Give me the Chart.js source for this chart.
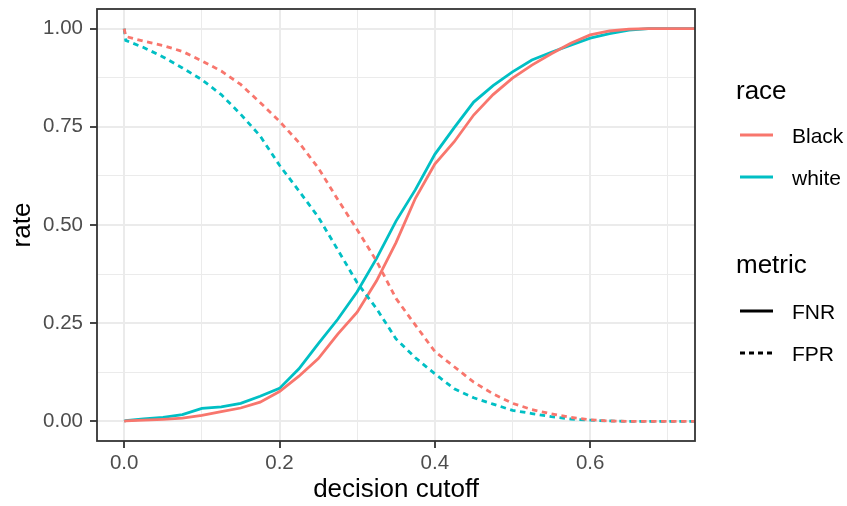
<!DOCTYPE html>
<html>
<head>
<meta charset="utf-8">
<script src="https://cdn.jsdelivr.net/npm/chart.js@4/dist/chart.umd.min.js"></script>
<style>
  html, body { margin: 0; padding: 0; background: #ffffff; }
  #wrap { width: 847px; height: 506px; }
</style>
</head>
<body>
<div id="wrap"><canvas id="chart" width="847" height="506"></canvas></div>
<script>
// decision cutoff values (x)
const cutoffs = [0, 0.002, 0.025, 0.05, 0.075, 0.1, 0.125, 0.15, 0.175, 0.2,
  0.225, 0.25, 0.275, 0.3, 0.325, 0.35, 0.375, 0.4, 0.425, 0.45,
  0.475, 0.5, 0.525, 0.55, 0.575, 0.6, 0.625, 0.65, 0.675, 0.7, 0.75];

// false negative rate by race
const fnrBlack = [0, 0.001, 0.003, 0.005, 0.008, 0.015, 0.025, 0.034, 0.049, 0.076,
  0.115, 0.16, 0.222, 0.278, 0.358, 0.455, 0.568, 0.655, 0.712, 0.78,
  0.832, 0.874, 0.907, 0.936, 0.963, 0.984, 0.994, 0.999, 1, 1, 1];
const fnrWhite = [0, 0.002, 0.006, 0.010, 0.017, 0.033, 0.037, 0.046, 0.064, 0.084,
  0.134, 0.198, 0.26, 0.33, 0.415, 0.51, 0.59, 0.68, 0.748, 0.813,
  0.855, 0.89, 0.92, 0.94, 0.958, 0.976, 0.987, 0.996, 1, 1, 1];

// false positive rate by race
const fprBlack = [1, 0.98, 0.968, 0.957, 0.942, 0.918, 0.892, 0.858, 0.812, 0.764,
  0.71, 0.645, 0.565, 0.488, 0.408, 0.313, 0.245, 0.178, 0.139, 0.10,
  0.07, 0.046, 0.03, 0.019, 0.010, 0.004, 0.001, 0, 0, 0, 0];
const fprWhite = [1, 0.97, 0.952, 0.928, 0.90, 0.87, 0.832, 0.782, 0.727, 0.652,
  0.587, 0.52, 0.437, 0.353, 0.287, 0.21, 0.162, 0.121, 0.083, 0.06,
  0.044, 0.028, 0.02, 0.012, 0.006, 0.003, 0.001, 0, 0, 0, 0];

// axis ticks
const xMajor = [0, 0.2, 0.4, 0.6];
const xMinor = [0.1, 0.3, 0.5, 0.7];
const xLabels = ['0.0', '0.2', '0.4', '0.6'];
const yMajor = [0, 0.25, 0.5, 0.75, 1];
const yMinor = [0.125, 0.375, 0.625, 0.875];
const yLabels = ['0.00', '0.25', '0.50', '0.75', '1.00'];

const raceNames = ['Black', 'white'];
const metricNames = ['FNR', 'FPR'];

const FONT = '"Liberation Sans", Arial, Helvetica, sans-serif';
const C_BLACK = '#F8766D';
const C_WHITE = '#00BFC4';
const DASH = [5.5, 4.5];

const pts = (ys) => cutoffs.map((x, i) => ({ x: x, y: ys[i] }));

const allTicks = (major, minor) => [...major, ...minor].sort((a, b) => a - b).map(v => ({ value: v }));

// ggplot-like legend + panel border
const ggPlugin = {
    id: 'ggExtras',
    afterDraw(chart) {
        const c = chart.ctx;
        const a = chart.chartArea;
        c.save();
        // panel border
        c.strokeStyle = '#333333';
        c.lineWidth = 1.8;
        c.strokeRect(a.left, a.top, a.right - a.left, a.bottom - a.top);

        c.fillStyle = '#000000';
        c.textAlign = 'left';
        c.textBaseline = 'alphabetic';
        c.font = `26px ${FONT}`;
        c.fillText('race', 736, 99);
        c.fillText('metric', 736, 273);

        c.font = `21px ${FONT}`;
        c.lineWidth = 2.8;
        c.lineCap = 'butt';
        const raceCols = [C_BLACK, C_WHITE];
        const raceY = [135, 177];
        raceNames.forEach((name, i) => {
            c.strokeStyle = raceCols[i];
            c.setLineDash([]);
            c.beginPath();
            c.moveTo(740, raceY[i]);
            c.lineTo(773, raceY[i]);
            c.stroke();
            c.fillText(name, 792, raceY[i] + 8);
        });
        const metricY = [311, 353];
        metricNames.forEach((name, i) => {
            c.strokeStyle = '#000000';
            c.setLineDash(i === 0 ? [] : [5, 4]);
            c.beginPath();
            c.moveTo(740, metricY[i]);
            c.lineTo(773, metricY[i]);
            c.stroke();
            c.fillText(name, 792, metricY[i] + 8);
        });
        c.restore();
    }
};

const ctx = document.getElementById('chart').getContext('2d');
new Chart(ctx, {
    type: 'line',
    data: {
        datasets: [
            { label: 'Black FPR', data: pts(fprBlack), borderColor: C_BLACK, borderDash: DASH },
            { label: 'white FPR', data: pts(fprWhite), borderColor: C_WHITE, borderDash: DASH },
            { label: 'Black FNR', data: pts(fnrBlack), borderColor: C_BLACK },
            { label: 'white FNR', data: pts(fnrWhite), borderColor: C_WHITE }
        ]
    },
    options: {
        responsive: false,
        animation: false,
        devicePixelRatio: 1,
        layout: { padding: { top: 9, right: 152, bottom: 0, left: 0 } },
        elements: {
            line: { borderWidth: 2.8, tension: 0, fill: false, borderCapStyle: 'butt' },
            point: { radius: 0, hoverRadius: 0 }
        },
        scales: {
            x: {
                type: 'linear',
                min: -0.035,
                max: 0.735,
                afterBuildTicks: s => { s.ticks = allTicks(xMajor, xMinor); },
                afterFit: s => { s.height = 65; s.paddingLeft = 0; s.paddingRight = 0; },
                ticks: {
                    autoSkip: false,
                    maxRotation: 0,
                    padding: 3,
                    color: '#4D4D4D',
                    font: { family: FONT, size: 20.5 },
                    callback: v => { const i = xMajor.indexOf(v); return i >= 0 ? xLabels[i] : ''; }
                },
                grid: {
                    color: '#EBEBEB',
                    lineWidth: c => xMajor.includes(c.tick && c.tick.value) ? 2 : 1,
                    tickLength: 7,
                    tickWidth: 1.8,
                    tickColor: c => xMajor.includes(c.tick && c.tick.value) ? '#333333' : 'rgba(0,0,0,0)'
                },
                border: { display: false },
                title: {
                    display: true,
                    text: 'decision cutoff',
                    color: '#000000',
                    font: { family: FONT, size: 26 },
                    padding: { top: 0, bottom: 1 }
                }
            },
            y: {
                type: 'linear',
                min: -0.05,
                max: 1.05,
                afterBuildTicks: s => { s.ticks = allTicks(yMajor, yMinor); },
                afterFit: s => { s.width = 97; s.paddingTop = 0; s.paddingBottom = 0; },
                ticks: {
                    autoSkip: false,
                    padding: 7,
                    color: '#4D4D4D',
                    font: { family: FONT, size: 20.5 },
                    callback: v => { const i = yMajor.indexOf(v); return i >= 0 ? yLabels[i] : ''; }
                },
                grid: {
                    color: '#EBEBEB',
                    lineWidth: c => yMajor.includes(c.tick && c.tick.value) ? 2 : 1,
                    tickLength: 7,
                    tickWidth: 1.8,
                    tickColor: c => yMajor.includes(c.tick && c.tick.value) ? '#333333' : 'rgba(0,0,0,0)'
                },
                border: { display: false },
                title: {
                    display: true,
                    text: 'rate',
                    color: '#000000',
                    font: { family: FONT, size: 26 },
                    padding: { top: 7, bottom: 0 }
                }
            }
        },
        plugins: {
            legend: { display: false },
            tooltip: { enabled: false }
        }
    },
    plugins: [ggPlugin]
});
</script>
</body>
</html>
